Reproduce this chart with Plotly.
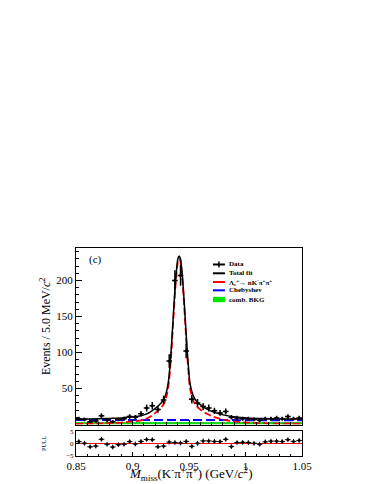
import plotly.graph_objects as go

# binned data, 5 MeV bins
bin_centers = [0.8525, 0.8575, 0.8625, 0.8675, 0.8725, 0.8775, 0.8825, 0.8875, 0.8925, 0.8975,
               0.9025, 0.9075, 0.9125, 0.9175, 0.9225, 0.9275, 0.9325, 0.9375, 0.9425, 0.9475,
               0.9525, 0.9575, 0.9625, 0.9675, 0.9725, 0.9775, 0.9825, 0.9875, 0.9925, 0.9975,
               1.0025, 1.0075, 1.0125, 1.0175, 1.0225, 1.0275, 1.0325, 1.0375, 1.0425, 1.0475]
counts = [8, 7, 4, 5, 12, 6, 4, 7, 8, 11,
          10, 15, 23, 26, 21, 34, 88, 200, 207, 102,
          35, 30, 25, 23, 19, 16, 18, 10, 9, 8,
          8, 7, 6, 8, 8, 9, 8, 11, 8, 9]
pulls = [0.8, 0.1, -1.4, -1.1, 1.8, -0.3, -1.5, -0.5, -0.3, 0.8,
         -0.2, 0.9, 1.7, 1.6, -1.4, -1.1, 0.6, 0.4, 0.2, 0.9,
         -1.2, 0.1, 1.1, 1.1, 0.9, 0.8, 1.8, -1.3, 0.4, 0.5,
         0.4, 0.1, -0.3, 0.7, 1.0, 1.0, 0.8, 1.6, 0.9, 1.3]

# fit curves
fit_x = [0.850, 0.870, 0.880, 0.890, 0.900, 0.9063, 0.9113, 0.9163, 0.9213, 0.9253,
         0.9273, 0.9288, 0.9303, 0.9318, 0.9333, 0.9343, 0.9353, 0.9363, 0.9373, 0.9383,
         0.9393, 0.9403, 0.9413, 0.9423, 0.9433, 0.9443, 0.9453, 0.9463, 0.9473, 0.9483,
         0.9493, 0.9508, 0.9523, 0.9543, 0.9573, 0.9613, 0.9663, 0.9713, 0.9763, 0.9813,
         0.9913, 1.0013, 1.0163, 1.0313, 1.050]
total_fit = [7.5, 8.0, 8.5, 9.2, 10.8, 11.8, 14.0, 18.0, 24.0, 30.0,
             34.0, 39.0, 47.0, 60.0, 84.0, 105.0, 130.0, 156.0, 181.0, 203.0,
             220.0, 231.0, 234.0, 231.0, 220.0, 203.0, 181.0, 156.0, 130.0, 105.0,
             84.0, 58.0, 47.0, 38.0, 31.0, 26.0, 21.0, 17.5, 15.0, 13.0,
             10.5, 9.2, 8.3, 7.8, 7.5]
signal_fit = [1.0, 1.5, 2.0, 2.7, 4.3, 5.3, 7.5, 11.5, 17.5, 23.5,
              27.5, 32.5, 40.5, 53.5, 77.5, 99.0, 124.0, 150.0, 175.0, 198.0,
              215.0, 227.0, 230.0, 227.0, 215.0, 198.0, 175.0, 150.0, 124.0, 99.0,
              77.5, 51.5, 40.5, 31.5, 24.5, 19.5, 14.5, 11.0, 8.5, 6.5,
              4.0, 2.7, 1.8, 1.3, 1.0]
cheb_x = [0.85, 1.05]
cheb_y = [6.3, 6.0]
comb_y = [2.5, 2.5]
zero_line = [0, 0]

FONT = "Liberation Serif"

fig = go.Figure()

fig.add_trace(go.Scatter(x=cheb_x, y=comb_y, mode="lines", fill="tozeroy",
                         fillcolor="rgb(0,230,0)", line=dict(color="rgb(0,200,0)", width=1)))
fig.add_trace(go.Scatter(x=cheb_x, y=cheb_y, mode="lines",
                         line=dict(color="rgb(0,0,255)", width=2, dash="9px,4px")))
fig.add_trace(go.Scatter(x=fit_x, y=signal_fit, mode="lines", line_shape="spline",
                         line=dict(color="rgb(255,0,0)", width=1.8, dash="7px,3px")))
fig.add_trace(go.Scatter(x=fit_x, y=total_fit, mode="lines", line_shape="spline",
                         line=dict(color="black", width=1.5)))
fig.add_trace(go.Scatter(x=bin_centers, y=counts, mode="markers",
                         marker=dict(color="black", size=3),
                         error_x=dict(type="constant", value=0.0025, width=0, thickness=1.5, color="black"),
                         error_y=dict(type="sqrt", width=0, thickness=1.5, color="black")))

# pull panel
fig.add_trace(go.Scatter(x=cheb_x, y=zero_line, mode="lines", xaxis="x2", yaxis="y2",
                         line=dict(color="red", width=1.2)))
fig.add_trace(go.Scatter(x=bin_centers, y=pulls, mode="markers", xaxis="x2", yaxis="y2",
                         marker=dict(color="black", size=3),
                         error_x=dict(type="constant", value=0.0025, width=0, thickness=1, color="black"),
                         error_y=dict(type="constant", value=1, width=0, thickness=1, color="black")))

axis_common = dict(showline=True, linecolor="black", linewidth=1, mirror=True,
                   showgrid=False, zeroline=False, ticks="inside", tickcolor="black",
                   tickfont=dict(family=FONT, size=11, color="black"))

fig.update_layout(
    width=374, height=484,
    margin=dict(l=68, r=80, t=240, b=36),
    plot_bgcolor="white", paper_bgcolor="white",
    showlegend=False,
    xaxis=dict(axis_common, range=[0.85, 1.05], domain=[0, 1], anchor="y",
               dtick=0.05, tick0=0.85, ticklen=5, showticklabels=False,
               minor=dict(dtick=0.01, ticklen=3, ticks="inside", tickcolor="black")),
    yaxis=dict(axis_common, range=[0, 245], domain=[0.1514, 1], anchor="x",
               tickvals=[50, 100, 150, 200], ticklen=6,
               minor=dict(dtick=10, ticklen=3, ticks="inside", tickcolor="black")),
    xaxis2=dict(axis_common, range=[0.85, 1.05], domain=[0, 1], anchor="y2", matches="x",
                tickvals=[0.85, 0.9, 0.95, 1.0, 1.05], ticktext=["0.85", "0.9", "0.95", "1", "1.05"],
                ticklen=4, minor=dict(dtick=0.01, ticklen=2, ticks="inside", tickcolor="black")),
    yaxis2=dict(axis_common, range=[-5.3, 5.3], domain=[0, 0.1202], anchor="x2",
                tickvals=[-5, 0, 5], ticklen=3, tickfont=dict(family=FONT, size=7, color="black")),
)

annots = [
    dict(text="Events / 5.0 MeV/<i>c</i><sup>2</sup>", x=-0.137, y=0.625, textangle=-90,
         font=dict(size=12)),
    dict(text="<i>M</i><sub>miss</sub>(K<sup>-</sup>π<sup>+</sup>π<sup>+</sup>) (GeV/<i>c</i><sup>2</sup>)",
         x=0.507, y=-0.085, font=dict(size=13)),
    dict(text="PULL", x=-0.142, y=0.0625, textangle=-90, font=dict(size=6)),
    dict(text="(c)", x=0.088, y=0.947, font=dict(size=11)),
]
for a in annots:
    fig.add_annotation(xref="paper", yref="paper", showarrow=False,
                       xanchor="center", yanchor="middle",
                       font=dict(family=FONT, color="black", size=a["font"]["size"]),
                       text=a["text"], x=a["x"], y=a["y"], textangle=a.get("textangle", 0))

# legend drawn by hand (ROOT style, compact)
leg_labels = ["Data", "Total fit", "Λ<sub>c</sub><sup>+</sup>→ nK<sup>-</sup>π<sup>+</sup>π<sup>+</sup>",
              "Chebyshev", "comb. BKG"]
leg_colors = ["black", "black", "red", "blue", "rgb(0,230,0)"]
leg_rows = [0.9207, 0.8784, 0.8365, 0.7966, 0.7524]
for lab, col, yy in zip(leg_labels, leg_colors, leg_rows):
    fig.add_annotation(xref="paper", yref="paper", showarrow=False, x=0.669, y=yy,
                       xanchor="left", yanchor="middle", text="<b>" + lab + "</b>",
                       font=dict(family=FONT, size=7, color="black"))
    if lab == "comb. BKG":
        fig.add_shape(type="rect", xref="paper", yref="paper", x0=0.606, x1=0.659,
                      y0=yy - 0.013, y1=yy + 0.013, fillcolor=col, line=dict(width=0))
    else:
        fig.add_shape(type="line", xref="paper", yref="paper", x0=0.606, x1=0.659,
                      y0=yy, y1=yy, line=dict(color=col, width=2))
    if lab == "Data":
        fig.add_shape(type="line", xref="paper", yref="paper", x0=0.6325, x1=0.6325,
                      y0=yy - 0.014, y1=yy + 0.014, line=dict(color=col, width=1.5))

fig.write_html("out.html")
